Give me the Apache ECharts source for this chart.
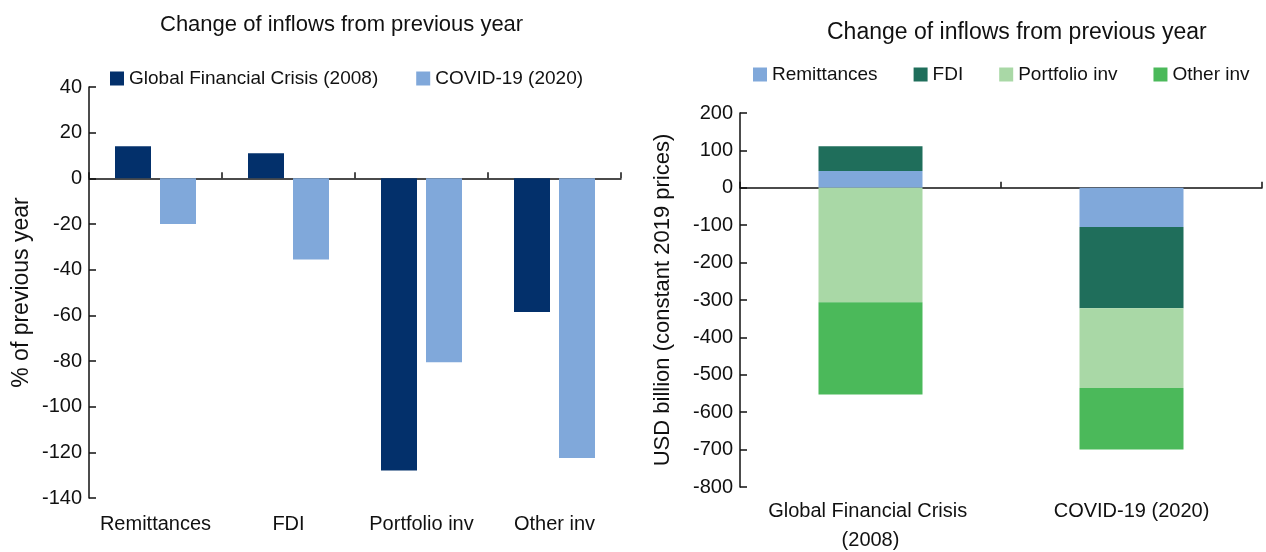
<!DOCTYPE html>
<html>
<head>
<meta charset="utf-8">
<title>Change of inflows from previous year</title>
<script src="https://cdn.jsdelivr.net/npm/echarts@6.0.0/dist/echarts.min.js"></script>
<style>
	body{margin:0;padding:0;background:#fff;}
	#main{width:1266px;height:552px;}
</style>
</head>
<body>
<div id="main"></div>
<script>
// 左图：占上一年的百分比
var pctCategories = ["Remittances", "FDI", "Portfolio inv", "Other inv"];
var pctGfc = [14, 11, -128, -58.5];
var pctCovid = [-20, -35.5, -80.5, -122.5];
var pctTicks = {min: -140, max: 40, interval: 20};

// 右图：十亿美元（2019年不变价格）
var usdCategories = ["Global Financial Crisis (2008)", "COVID-19 (2020)"];
var usdRemittances = [45, -105];
var usdFdi = [66, -217];
var usdPortfolio = [-306, -213];
var usdOther = [-247, -165];
var usdTicks = {min: -800, max: 200, interval: 100};

var fontName = "Liberation Sans, Arial, sans-serif";
var textColor = "#111";
var lineColor = "#111";

var myChart;

window.onload = function(){
	init();
};

function init(){
	myChart = echarts.init(document.getElementById("main"), null, {renderer: "canvas"});
	var option = {
		backgroundColor: "#fff",
		animation: false,
		textStyle: {fontFamily: fontName, color: textColor},
		title: [
			makeTitle(155, 9, 22),
			makeTitle(822, 16, 23)
		],
		legend: [
			{
				left: 105, top: 64, width: 560,
				itemWidth: 14, itemHeight: 14, itemGap: 38,
				icon: "rect",
				textStyle: {fontFamily: fontName, fontSize: 19, color: textColor},
				data: ["Global Financial Crisis (2008)", "COVID-19 (2020)"]
			},
			{
				left: 748, top: 60, width: 540,
				itemWidth: 14, itemHeight: 14, itemGap: 36,
				icon: "rect",
				textStyle: {fontFamily: fontName, fontSize: 19, color: textColor},
				data: ["Remittances", "FDI", "Portfolio inv", "Other inv"]
			}
		],
		grid: [
			{left: 89, top: 87, width: 532, height: 411, outerBoundsMode: "none"},
			{left: 740, top: 113, width: 522, height: 374, outerBoundsMode: "none"}
		],
		xAxis: [
			//标签轴放在底部，零线轴单独画
			labelAxis(0, pctCategories, 12, 0),
			zeroAxis(0, pctCategories),
			labelAxis(1, usdCategories, 10, 230),
			zeroAxis(1, usdCategories)
		],
		yAxis: [
			valueAxis(0, pctTicks, "% of previous year", 56, 23),
			valueAxis(1, usdTicks, "USD billion (constant 2019 prices)", 66, 22)
		],
		series: [
			{
				name: "Global Financial Crisis (2008)", type: "bar",
				xAxisIndex: 0, yAxisIndex: 0,
				barWidth: 36, barGap: "25%",
				itemStyle: {color: "#03306b"},
				data: pctGfc
			},
			{
				name: "COVID-19 (2020)", type: "bar",
				xAxisIndex: 0, yAxisIndex: 0,
				barWidth: 36, barGap: "25%",
				itemStyle: {color: "#80a8da"},
				data: pctCovid
			},
			stackBar("Remittances", "#80a8da", usdRemittances),
			stackBar("FDI", "#1f6e5b", usdFdi),
			stackBar("Portfolio inv", "#a9d8a6", usdPortfolio),
			stackBar("Other inv", "#4bb95a", usdOther)
		]
	};
	myChart.setOption(option);
}

function makeTitle(x, y, size){
	return {
		text: "Change of inflows from previous year",
		left: x, top: y,
		textStyle: {fontFamily: fontName, fontSize: size, fontWeight: "normal", color: textColor}
	};
}

function labelAxis(gridIdx, cats, margin, width){
	var lbl = {
		fontFamily: fontName, fontSize: 20, color: textColor,
		margin: margin, interval: 0, lineHeight: 29
	};
	if(width > 0){
		lbl.width = width;
		lbl.overflow = "break";
	}
	return {
		type: "category", gridIndex: gridIdx, position: "bottom",
		data: cats,
		axisLine: {show: false, onZero: false},
		axisTick: {show: false},
		axisLabel: lbl,
		splitLine: {show: false}
	};
}

function zeroAxis(gridIdx, cats){
	//零线上的刻度朝上
	return {
		type: "category", gridIndex: gridIdx, position: "top",
		data: cats,
		axisLine: {show: true, onZero: true, lineStyle: {color: lineColor, width: 1.5}},
		axisTick: {show: true, length: 6, lineStyle: {color: lineColor, width: 1.5}},
		axisLabel: {show: false},
		splitLine: {show: false}
	};
}

function valueAxis(gridIdx, ticks, name, gap, nameSize){
	return {
		type: "value", gridIndex: gridIdx,
		min: ticks.min, max: ticks.max, interval: ticks.interval,
		name: name, nameLocation: "middle", nameGap: gap, nameRotate: 90,
		nameTextStyle: {fontFamily: fontName, fontSize: nameSize, color: textColor},
		axisLine: {show: true, onZero: false, lineStyle: {color: lineColor, width: 1.5}},
		axisTick: {show: true, inside: true, length: 7, lineStyle: {color: lineColor, width: 1.5}},
		axisLabel: {fontFamily: fontName, fontSize: 20, color: textColor, margin: 7},
		splitLine: {show: false}
	};
}

function stackBar(name, color, values){
	return {
		name: name, type: "bar",
		xAxisIndex: 2, yAxisIndex: 1,
		stack: "usd", barWidth: 104,
		itemStyle: {color: color},
		data: values
	};
}
</script>
</body>
</html>
